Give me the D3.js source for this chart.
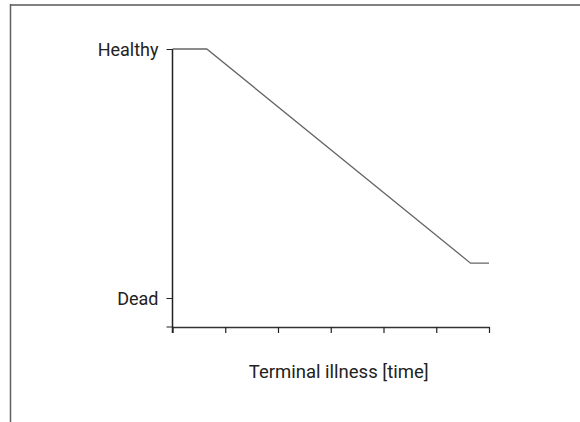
<!DOCTYPE html>
<html>
<head>
<meta charset="utf-8">
<script src="https://cdn.jsdelivr.net/npm/d3@7"></script>
<style>
  body { margin: 0; background: #fff; }
  svg text { font-family: "Liberation Sans Narrow", "Roboto", sans-serif; fill: #222; }
</style>
</head>
<body>
<div id="chart"></div>
<script>
// data (health: 0 = dead, 1 = healthy)
var timePoints = [0, 0.65, 5.65, 6]
var healthValues = [1, 1, 0.14, 0.14]
var xTicks = [0, 1, 2, 3, 4, 5, 6]
var yTickValues = [0, 1]
var yTickLabels = ["Dead", "Healthy"]
var xLabel = "Terminal illness [time]"

var width = 580, height = 422

var svg = d3.select("#chart")
  .append("svg")
  .attr("width", width)
  .attr("height", height)

// frame: top and left edges only
svg.append("line")
  .attr("x1", 10).attr("x2", width)
  .attr("y1", 5).attr("y2", 5)
  .style("stroke", "#808080")
  .style("stroke-width", 2)
svg.append("line")
  .attr("x1", 10.5).attr("x2", 10.5)
  .attr("y1", 4).attr("y2", height)
  .style("stroke", "#606060")
  .style("stroke-width", 1.5)

var xScale = d3.scaleLinear()
  .domain([0, 6])
  .range([172.5, 489])

var yScale = d3.scaleLinear()
  .domain([0, 1])
  .range([298, 49])

var yBottom = 327

// Y axis
var yAxis = d3.axisLeft(yScale)
  .tickValues(yTickValues)
  .tickFormat((d, i) => yTickLabels[i])
  .tickSize(6)
  .tickSizeOuter(0)
  .tickPadding(8)

var yG = svg.append("g")
  .attr("transform", `translate(${xScale(0)},0)`)
  .call(yAxis)
yG.select(".domain").remove()
yG.append("line")
  .attr("y1", yScale(1)).attr("y2", yBottom + 6)
  .style("stroke", "#222")
  .style("stroke-width", 1.5)
yG.append("line")
  .attr("x1", -6).attr("x2", 0)
  .attr("y1", yBottom).attr("y2", yBottom)
  .style("stroke", "#222")
yG.selectAll(".tick line").style("stroke", "#222")
yG.selectAll(".tick text")
  .style("font-size", "18px")
  .attr("dy", "0.35em")

// X axis
var xAxis = d3.axisBottom(xScale)
  .tickValues(xTicks)
  .tickFormat("")
  .tickSize(6)
  .tickSizeOuter(0)

var xG = svg.append("g")
  .attr("transform", `translate(0,${yBottom})`)
  .call(xAxis)
xG.select(".domain").style("stroke", "#333").style("stroke-width", 1.5)
xG.selectAll(".tick line").style("stroke", "#222").style("stroke-width", 1.2)

svg.append("text")
  .attr("x", xScale(3) + 8)
  .attr("y", 378)
  .attr("text-anchor", "middle")
  .style("font-size", "18.5px")
  .text(xLabel)

// health line
var line = d3.line()
  .x((d, i) => xScale(d))
  .y((d, i) => yScale(healthValues[i]))

svg.append("path")
  .datum(timePoints)
  .attr("d", line)
  .style("fill", "none")
  .style("stroke", "#666")
  .style("stroke-width", 1.3)
</script>
</body>
</html>
